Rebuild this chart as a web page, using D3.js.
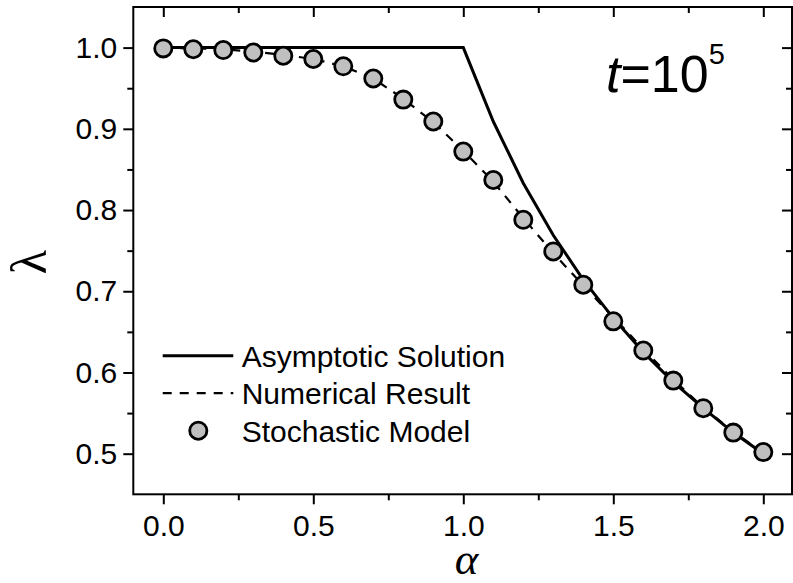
<!DOCTYPE html>
<html>
<head>
<meta charset="utf-8">
<script src="https://cdn.jsdelivr.net/npm/d3@7"></script>
<style>
  body { margin: 0; background: white; }
  text { font-family: "Liberation Sans", Arial, sans-serif; fill: black; }
</style>
</head>
<body>
<svg id="chart" width="793" height="583"></svg>
<script>
// alpha values, one every 0.1
var alphaValues = [0.0,0.1,0.2,0.3,0.4,0.5,0.6,0.7,0.8,0.9,1.0,1.1,1.2,1.3,1.4,1.5,1.6,1.7,1.8,1.9,2.0]
// lambda
var asymptotic = [1,1,1,1,1,1,1,1,1,1,1,0.909,0.833,0.769,0.714,0.667,0.625,0.588,0.556,0.526,0.500]
var numerical  = [1.000,0.999,0.998,0.995,0.991,0.986,0.977,0.962,0.937,0.908,0.873,0.835,0.790,0.747,0.707,0.668,0.629,0.591,0.557,0.527,0.501]
var stochastic = [0.999,0.998,0.997,0.994,0.990,0.986,0.977,0.962,0.936,0.909,0.872,0.837,0.788,0.749,0.708,0.663,0.627,0.590,0.556,0.526,0.502]

var xMajor = [0.0,0.5,1.0,1.5,2.0]
var xMinor = [0.25,0.75,1.25,1.75]
var yMajor = [0.5,0.6,0.7,0.8,0.9,1.0]
var yMinor = [0.55,0.65,0.75,0.85,0.95]
var legendNames = ['Asymptotic Solution','Numerical Result','Stochastic Model']

var svg = d3.select('#chart')
var pLeft = 133.3, pRight = 792, pTop = 7, pBottom = 494.3

var x = d3.scaleLinear().domain([-0.1, 2.1]).range([pLeft, pLeft + 2.2*300])
var y = d3.scaleLinear().domain([0.45, 1.05]).range([pBottom, pTop])

let fmt = d3.format('.1f')

// Frame
svg.append('rect')
.attr('x', pLeft).attr('y', pTop)
.attr('width', pRight-pLeft).attr('height', pBottom-pTop)
.attr('fill', 'none').attr('stroke', 'black').attr('stroke-width', 2)

function styleAxis(g) {
  g.select('.domain').remove()
  g.selectAll('line').attr('stroke', 'black').attr('stroke-width', 2)
  g.selectAll('text').style('font-size', '30px').attr('font-family', '"Liberation Sans", Arial, sans-serif')
}

// Bottom axis (outward ticks)
svg.append('g').attr('transform', `translate(0,${pBottom})`)
.call(d3.axisBottom(x).tickValues(xMajor).tickFormat(fmt).tickSize(10).tickPadding(10))
.call(styleAxis)
svg.append('g').attr('transform', `translate(0,${pBottom})`)
.call(d3.axisBottom(x).tickValues(xMinor).tickFormat('').tickSize(6))
.call(styleAxis)

// Top axis (inward ticks)
svg.append('g').attr('transform', `translate(0,${pTop})`)
.call(d3.axisTop(x).tickValues(xMajor).tickFormat('').tickSize(-10))
.call(styleAxis)
svg.append('g').attr('transform', `translate(0,${pTop})`)
.call(d3.axisTop(x).tickValues(xMinor).tickFormat('').tickSize(-6))
.call(styleAxis)

// Left axis (outward ticks)
svg.append('g').attr('transform', `translate(${pLeft},0)`)
.call(d3.axisLeft(y).tickValues(yMajor).tickFormat(fmt).tickSize(10).tickPadding(6))
.call(styleAxis)
svg.append('g').attr('transform', `translate(${pLeft},0)`)
.call(d3.axisLeft(y).tickValues(yMinor).tickFormat('').tickSize(6))
.call(styleAxis)

// Right axis (inward ticks)
svg.append('g').attr('transform', `translate(${pRight},0)`)
.call(d3.axisRight(y).tickValues(yMajor).tickFormat('').tickSize(-10))
.call(styleAxis)
svg.append('g').attr('transform', `translate(${pRight},0)`)
.call(d3.axisRight(y).tickValues(yMinor).tickFormat('').tickSize(-6))
.call(styleAxis)

// Lines
let line = d3.line().x((d,i)=>x(alphaValues[i])).y(d=>y(d))

svg.append('path').datum(numerical)
.attr('d', line)
.attr('fill', 'none').attr('stroke', 'black')
.attr('stroke-width', 2.2).attr('stroke-dasharray', '9,8')

svg.append('path').datum(asymptotic)
.attr('d', line)
.attr('fill', 'none').attr('stroke', 'black')
.attr('stroke-width', 3).attr('stroke-linejoin', 'miter')

// Points
svg.append('g').selectAll('circle').data(stochastic)
.enter().append('circle')
.attr('cx', (d,i)=>x(alphaValues[i]))
.attr('cy', d=>y(d))
.attr('r', 8.6)
.attr('fill', '#c0c0c0')
.attr('stroke', 'black')
.attr('stroke-width', 2.8)

// Legend
let legend = svg.append('g')
let lgX = 162.7, lgY = 355.7, lgStep = 37.5
legendNames.forEach((name, i) => {
  let cy = lgY + lgStep*i
  if(i==0) {
    legend.append('line').attr('x1', lgX).attr('x2', lgX+70.6).attr('y1', cy).attr('y2', cy)
    .attr('stroke', 'black').attr('stroke-width', 3)
  } else if(i==1) {
    legend.append('line').attr('x1', lgX).attr('x2', lgX+70.6).attr('y1', cy).attr('y2', cy)
    .attr('stroke', 'black').attr('stroke-width', 2.2).attr('stroke-dasharray', '9,8')
  } else {
    legend.append('circle').attr('cx', lgX+35.6).attr('cy', cy).attr('r', 8.6)
    .attr('fill', '#c0c0c0').attr('stroke', 'black').attr('stroke-width', 2.8)
  }
  legend.append('text')
  .attr('x', lgX+79).attr('y', cy+10.8)
  .style('font-size', '30px')
  .text(name)
})

// Annotation t=10^5
let note = svg.append('text').attr('x', 606).attr('y', 91.7).style('font-size', '52px')
note.append('tspan').style('font-style', 'italic').text('t')
note.append('tspan').text('=10')
note.append('tspan').attr('dy', -28).style('font-size', '29px').text('5')

// Axis titles
svg.append('text')
.attr('x', (pLeft+pRight)/2 + 4).attr('y', 574)
.attr('text-anchor', 'middle')
.style('font-family', '"Liberation Serif", "Times New Roman", serif')
.style('font-style', 'italic').style('font-size', '45px')
.text('α')

svg.append('text')
.attr('transform', 'translate(46,262) rotate(-90)')
.attr('text-anchor', 'middle')
.style('font-family', '"Liberation Serif", "Times New Roman", serif')
.style('font-size', '50px')
.text('λ')
</script>
</body>
</html>
